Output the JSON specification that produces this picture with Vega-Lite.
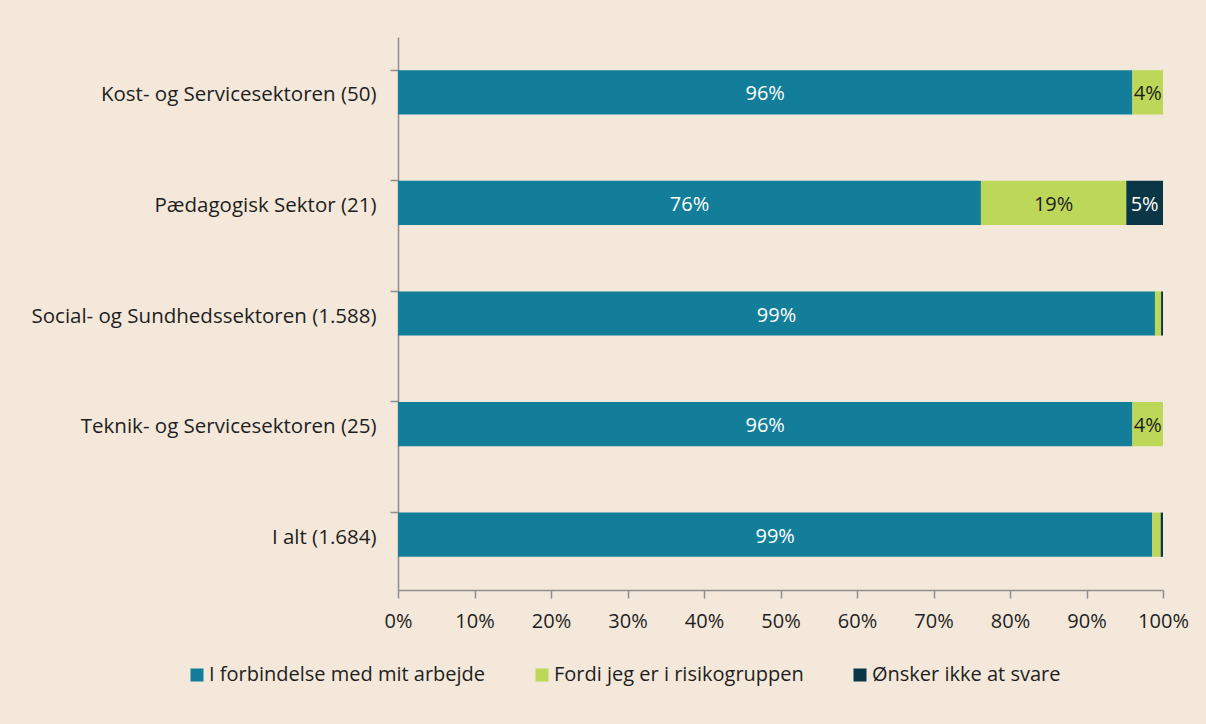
{
  "$schema": "https://vega.github.io/schema/vega-lite/v6.json",
  "autosize": {"type": "none"},
  "width": 765,
  "height": 553,
  "padding": {"left": 398, "top": 37, "right": 43, "bottom": 134},
  "background": "#F4E8DA",
  "config": {
    "view": {"stroke": null},
    "font": "Open Sans",
    "axis": {"domainColor": "#8E8E8E", "tickColor": "#8E8E8E", "domainWidth": 1.5, "tickWidth": 1.5, "labelColor": "#1E1E1E", "labelFontSize": 20, "labelFont": "Open Sans", "grid": false, "tickSize": 8}
  },
  "data": {
    "values": [
      {"sektor": "Kost- og Servicesektoren (50)", "svar": "I forbindelse med mit arbejde", "k": 1, "andel": 0.96},
      {"sektor": "Kost- og Servicesektoren (50)", "svar": "Fordi jeg er i risikogruppen", "k": 2, "andel": 0.04},
      {"sektor": "Kost- og Servicesektoren (50)", "svar": "Ønsker ikke at svare", "k": 3, "andel": 0.0},
      {"sektor": "Pædagogisk Sektor (21)", "svar": "I forbindelse med mit arbejde", "k": 1, "andel": 0.762},
      {"sektor": "Pædagogisk Sektor (21)", "svar": "Fordi jeg er i risikogruppen", "k": 2, "andel": 0.19},
      {"sektor": "Pædagogisk Sektor (21)", "svar": "Ønsker ikke at svare", "k": 3, "andel": 0.048},
      {"sektor": "Social- og Sundhedssektoren (1.588)", "svar": "I forbindelse med mit arbejde", "k": 1, "andel": 0.9895},
      {"sektor": "Social- og Sundhedssektoren (1.588)", "svar": "Fordi jeg er i risikogruppen", "k": 2, "andel": 0.008},
      {"sektor": "Social- og Sundhedssektoren (1.588)", "svar": "Ønsker ikke at svare", "k": 3, "andel": 0.0025},
      {"sektor": "Teknik- og Servicesektoren (25)", "svar": "I forbindelse med mit arbejde", "k": 1, "andel": 0.96},
      {"sektor": "Teknik- og Servicesektoren (25)", "svar": "Fordi jeg er i risikogruppen", "k": 2, "andel": 0.04},
      {"sektor": "Teknik- og Servicesektoren (25)", "svar": "Ønsker ikke at svare", "k": 3, "andel": 0.0},
      {"sektor": "I alt (1.684)", "svar": "I forbindelse med mit arbejde", "k": 1, "andel": 0.986},
      {"sektor": "I alt (1.684)", "svar": "Fordi jeg er i risikogruppen", "k": 2, "andel": 0.011},
      {"sektor": "I alt (1.684)", "svar": "Ønsker ikke at svare", "k": 3, "andel": 0.003}
    ]
  },
  "encoding": {
    "y": {
      "field": "sektor", "type": "nominal",
      "sort": ["Kost- og Servicesektoren (50)", "Pædagogisk Sektor (21)", "Social- og Sundhedssektoren (1.588)", "Teknik- og Servicesektoren (25)", "I alt (1.684)"],
      "scale": {"paddingInner": 0.6, "paddingOuter": 0.3},
      "axis": {"title": null, "bandPosition": 0, "labelPadding": 14, "labelLimit": 400, "labelFontSize": 20.5, "labelOffset": 3}
    },
    "x": {
      "field": "andel", "type": "quantitative", "stack": "zero",
      "scale": {"domain": [0, 1], "nice": false},
      "axis": {"title": null, "format": ".0%", "values": [0, 0.1, 0.2, 0.3, 0.4, 0.5, 0.6, 0.7, 0.8, 0.9, 1], "labelPadding": 13, "labelFlush": false}
    },
    "order": {"field": "k", "type": "quantitative"}
  },
  "layer": [
    {
      "mark": {"type": "bar"},
      "encoding": {
        "color": {
          "field": "svar", "type": "nominal",
          "scale": {"domain": ["I forbindelse med mit arbejde", "Fordi jeg er i risikogruppen", "Ønsker ikke at svare"], "range": ["#127E99", "#BDD758", "#0B3645"]},
          "legend": {"title": null, "orient": "none", "legendX": -211, "legendY": 628, "direction": "horizontal", "symbolType": "square", "symbolSize": 169, "symbolStrokeWidth": 0, "labelFontSize": 20, "labelColor": "#1E1E1E", "labelFont": "Open Sans", "labelOffset": 2, "columnPadding": 46, "labelLimit": 400}
        }
      }
    },
    {
      "transform": [{"filter": "datum.andel >= 0.03"}],
      "mark": {"type": "text", "fontSize": 20, "font": "Open Sans", "dy": 2},
      "encoding": {
        "x": {"field": "andel", "type": "quantitative", "stack": "zero", "bandPosition": 0.5},
        "text": {"field": "andel", "type": "quantitative", "format": ".0%"},
        "color": {"condition": {"test": "datum.k === 2", "value": "#1E1E1E"}, "value": "#FFFFFF"}
      }
    }
  ]
}
